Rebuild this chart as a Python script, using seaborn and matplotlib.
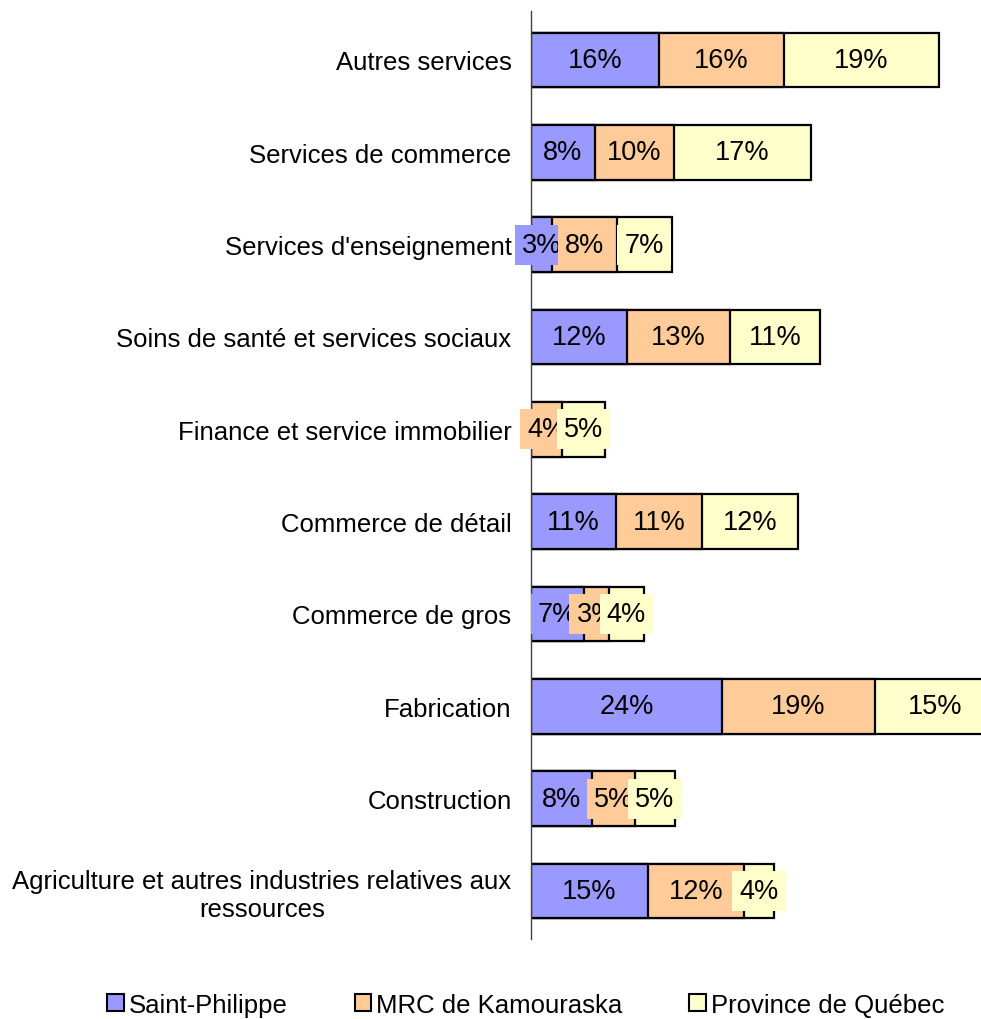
import numpy as np
import pandas as pd
import matplotlib
matplotlib.use("Agg")
import matplotlib.pyplot as plt
import seaborn as sns
from matplotlib.patches import Patch

# Data (share of employment by sector, %)
categories = [
    "Autres services",
    "Services de commerce",
    "Services d'enseignement",
    "Soins de santé et services sociaux",
    "Finance et service immobilier",
    "Commerce de détail",
    "Commerce de gros",
    "Fabrication",
    "Construction",
    "Agriculture et autres industries relatives aux\nressources",
]
saint_philippe = [16.0, 8.0, 2.6, 12.0, 0.0, 10.6, 6.6, 23.9, 7.6, 14.6]
mrc_kamouraska = [15.6, 9.9, 8.1, 12.9, 3.9, 10.8, 3.1, 19.1, 5.4, 12.0]
province_quebec = [19.4, 17.1, 6.9, 11.2, 5.4, 12.0, 4.4, 15.0, 5.0, 3.8]

series_names = ["Saint-Philippe", "MRC de Kamouraska", "Province de Québec"]
colours = ["#9999FF", "#FFCC99", "#FFFFCC"]

df = pd.DataFrame({
    "Secteur": categories,
    series_names[0]: saint_philippe,
    series_names[1]: mrc_kamouraska,
    series_names[2]: province_quebec,
})

sns.set_style("white")
plt.rcParams["font.family"] = ["Liberation Sans", "DejaVu Sans"]
plt.rcParams["text.color"] = "black"
plt.rcParams["ytick.color"] = "black"

fig = plt.figure(figsize=(9.81, 10.2), dpi=100)
ax = fig.add_axes([531 / 981, 80 / 1020, 450 / 981, 928 / 1020])

# stacked bars: draw cumulative totals back to front
cum = df[series_names].cumsum(axis=1)
for name, col in reversed(list(zip(series_names, colours))):
    sns.barplot(data=cum, x=name, y=df["Secteur"], color=col, width=0.59,
                edgecolor="black", linewidth=1.6, saturation=1, ax=ax,
                order=categories, orient="h")

# value labels
for i, cat in enumerate(categories):
    left = 0
    for name, col in zip(series_names, colours):
        v = df.loc[i, name]
        if v > 0:
            ax.text(left + v / 2, i, f"{round(v)}%", ha="center", va="center",
                    fontsize=19.5, color="black", zorder=5,
                    bbox=dict(boxstyle="square,pad=0.26", facecolor=col, edgecolor="none"))
        left += v

ax.set_xlim(0, 56.25)
ax.set_ylim(9.52, -0.53)
ax.set_xlabel("")
ax.set_ylabel("")
ax.set_xticks([])
ax.tick_params(axis="y", length=0, pad=14, labelsize=18.5, labelcolor="black")
for lbl in ax.get_yticklabels():
    lbl.set_multialignment("center")
for s in ["top", "right", "bottom"]:
    ax.spines[s].set_visible(False)
ax.spines["left"].set_color("#404040")
ax.spines["left"].set_linewidth(1.0)

handles = [Patch(facecolor=c, edgecolor="black", linewidth=1.5) for c in colours]
fig.legend(handles, series_names, loc="center", bbox_to_anchor=(0.536, 0.014),
           ncol=3, frameon=False, fontsize=18.5, handlelength=0.65, handleheight=0.65,
           handletextpad=0.2, columnspacing=2.6, borderaxespad=0)

fig.savefig("out.png", dpi=100)
